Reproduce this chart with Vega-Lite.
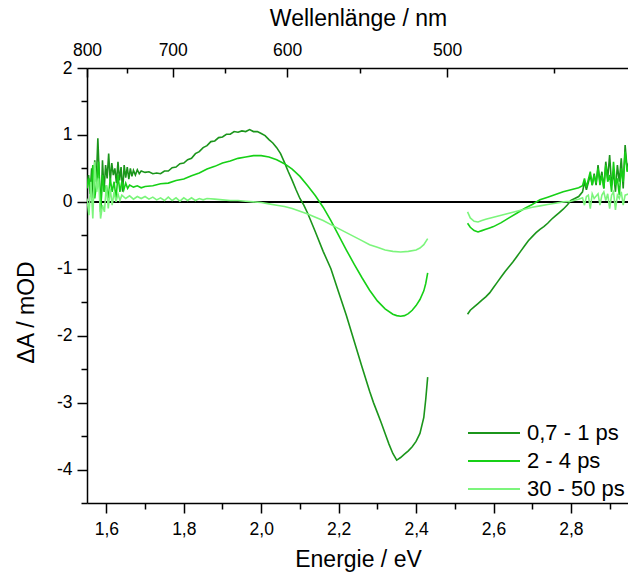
{
"$schema":"https://vega.github.io/schema/vega-lite/v6.json",
"autosize":"none",
"width":542,"height":435,
"padding":{"left":87,"top":68,"right":0,"bottom":71},
"background":"white",
"config":{"view":{"stroke":null},
"axis":{"labelFont":"Liberation Sans","titleFont":"Liberation Sans","labelFontSize":17.5,"titleFontSize":23,"titleFontWeight":"normal","labelColor":"black","titleColor":"black","domainColor":"black","tickColor":"black","domainWidth":1.5,"tickWidth":1.5,"grid":false,"labelFlush":false,"labelOverlap":false},
"legend":{"labelFont":"Liberation Sans","labelFontSize":22,"labelColor":"black"}},
"datasets":{"d":[
{"s":"0,7 - 1 ps","p":1,"e":1.550,"v":0.25},{"s":"0,7 - 1 ps","p":1,"e":1.554,"v":0.40},{"s":"0,7 - 1 ps","p":1,"e":1.558,"v":0.12},{"s":"0,7 - 1 ps","p":1,"e":1.562,"v":0.50},{"s":"0,7 - 1 ps","p":1,"e":1.566,"v":0.05},{"s":"0,7 - 1 ps","p":1,"e":1.570,"v":0.62},{"s":"0,7 - 1 ps","p":1,"e":1.574,"v":0.30},{"s":"0,7 - 1 ps","p":1,"e":1.578,"v":0.95},{"s":"0,7 - 1 ps","p":1,"e":1.582,"v":0.35},{"s":"0,7 - 1 ps","p":1,"e":1.586,"v":-0.12},{"s":"0,7 - 1 ps","p":1,"e":1.590,"v":0.62},{"s":"0,7 - 1 ps","p":1,"e":1.594,"v":0.15},{"s":"0,7 - 1 ps","p":1,"e":1.598,"v":0.55},{"s":"0,7 - 1 ps","p":1,"e":1.602,"v":0.35},{"s":"0,7 - 1 ps","p":1,"e":1.606,"v":0.72},{"s":"0,7 - 1 ps","p":1,"e":1.610,"v":0.30},{"s":"0,7 - 1 ps","p":1,"e":1.614,"v":0.58},{"s":"0,7 - 1 ps","p":1,"e":1.618,"v":0.40},{"s":"0,7 - 1 ps","p":1,"e":1.622,"v":0.50},{"s":"0,7 - 1 ps","p":1,"e":1.626,"v":0.28},{"s":"0,7 - 1 ps","p":1,"e":1.630,"v":0.60},{"s":"0,7 - 1 ps","p":1,"e":1.634,"v":0.32},{"s":"0,7 - 1 ps","p":1,"e":1.638,"v":0.52},{"s":"0,7 - 1 ps","p":1,"e":1.642,"v":0.15},{"s":"0,7 - 1 ps","p":1,"e":1.646,"v":0.55},{"s":"0,7 - 1 ps","p":1,"e":1.650,"v":0.36},{"s":"0,7 - 1 ps","p":1,"e":1.654,"v":0.52},{"s":"0,7 - 1 ps","p":1,"e":1.658,"v":0.34},{"s":"0,7 - 1 ps","p":1,"e":1.662,"v":0.50},{"s":"0,7 - 1 ps","p":1,"e":1.666,"v":0.38},{"s":"0,7 - 1 ps","p":1,"e":1.670,"v":0.47},{"s":"0,7 - 1 ps","p":1,"e":1.675,"v":0.40},{"s":"0,7 - 1 ps","p":1,"e":1.680,"v":0.48},{"s":"0,7 - 1 ps","p":1,"e":1.685,"v":0.42},{"s":"0,7 - 1 ps","p":1,"e":1.690,"v":0.46},{"s":"0,7 - 1 ps","p":1,"e":1.700,"v":0.44},{"s":"0,7 - 1 ps","p":1,"e":1.710,"v":0.45},{"s":"0,7 - 1 ps","p":1,"e":1.720,"v":0.42},{"s":"0,7 - 1 ps","p":1,"e":1.730,"v":0.43},{"s":"0,7 - 1 ps","p":1,"e":1.740,"v":0.42},{"s":"0,7 - 1 ps","p":1,"e":1.750,"v":0.46},{"s":"0,7 - 1 ps","p":1,"e":1.760,"v":0.46},{"s":"0,7 - 1 ps","p":1,"e":1.770,"v":0.51},{"s":"0,7 - 1 ps","p":1,"e":1.780,"v":0.52},{"s":"0,7 - 1 ps","p":1,"e":1.790,"v":0.57},{"s":"0,7 - 1 ps","p":1,"e":1.800,"v":0.58},{"s":"0,7 - 1 ps","p":1,"e":1.810,"v":0.63},{"s":"0,7 - 1 ps","p":1,"e":1.820,"v":0.65},{"s":"0,7 - 1 ps","p":1,"e":1.830,"v":0.72},{"s":"0,7 - 1 ps","p":1,"e":1.840,"v":0.75},{"s":"0,7 - 1 ps","p":1,"e":1.850,"v":0.81},{"s":"0,7 - 1 ps","p":1,"e":1.860,"v":0.84},{"s":"0,7 - 1 ps","p":1,"e":1.870,"v":0.90},{"s":"0,7 - 1 ps","p":1,"e":1.880,"v":0.91},{"s":"0,7 - 1 ps","p":1,"e":1.890,"v":0.96},{"s":"0,7 - 1 ps","p":1,"e":1.900,"v":0.97},{"s":"0,7 - 1 ps","p":1,"e":1.910,"v":1.01},{"s":"0,7 - 1 ps","p":1,"e":1.920,"v":1.01},{"s":"0,7 - 1 ps","p":1,"e":1.930,"v":1.05},{"s":"0,7 - 1 ps","p":1,"e":1.940,"v":1.04},{"s":"0,7 - 1 ps","p":1,"e":1.950,"v":1.06},{"s":"0,7 - 1 ps","p":1,"e":1.960,"v":1.05},{"s":"0,7 - 1 ps","p":1,"e":1.970,"v":1.08},{"s":"0,7 - 1 ps","p":1,"e":1.980,"v":1.05},{"s":"0,7 - 1 ps","p":1,"e":1.990,"v":1.05},{"s":"0,7 - 1 ps","p":1,"e":2.000,"v":1.02},{"s":"0,7 - 1 ps","p":1,"e":2.010,"v":0.99},{"s":"0,7 - 1 ps","p":1,"e":2.020,"v":0.93},{"s":"0,7 - 1 ps","p":1,"e":2.030,"v":0.88},{"s":"0,7 - 1 ps","p":1,"e":2.040,"v":0.81},{"s":"0,7 - 1 ps","p":1,"e":2.050,"v":0.72},{"s":"0,7 - 1 ps","p":1,"e":2.060,"v":0.59},{"s":"0,7 - 1 ps","p":1,"e":2.070,"v":0.45},{"s":"0,7 - 1 ps","p":1,"e":2.080,"v":0.32},{"s":"0,7 - 1 ps","p":1,"e":2.090,"v":0.18},{"s":"0,7 - 1 ps","p":1,"e":2.100,"v":0.05},{"s":"0,7 - 1 ps","p":1,"e":2.110,"v":-0.05},{"s":"0,7 - 1 ps","p":1,"e":2.120,"v":-0.17},{"s":"0,7 - 1 ps","p":1,"e":2.140,"v":-0.45},{"s":"0,7 - 1 ps","p":1,"e":2.160,"v":-0.74},{"s":"0,7 - 1 ps","p":1,"e":2.180,"v":-1.00},{"s":"0,7 - 1 ps","p":1,"e":2.200,"v":-1.35},{"s":"0,7 - 1 ps","p":1,"e":2.220,"v":-1.70},{"s":"0,7 - 1 ps","p":1,"e":2.240,"v":-2.08},{"s":"0,7 - 1 ps","p":1,"e":2.260,"v":-2.46},{"s":"0,7 - 1 ps","p":1,"e":2.280,"v":-2.83},{"s":"0,7 - 1 ps","p":1,"e":2.290,"v":-3.00},{"s":"0,7 - 1 ps","p":1,"e":2.300,"v":-3.15},{"s":"0,7 - 1 ps","p":1,"e":2.310,"v":-3.30},{"s":"0,7 - 1 ps","p":1,"e":2.320,"v":-3.46},{"s":"0,7 - 1 ps","p":1,"e":2.330,"v":-3.62},{"s":"0,7 - 1 ps","p":1,"e":2.340,"v":-3.76},{"s":"0,7 - 1 ps","p":1,"e":2.350,"v":-3.86},{"s":"0,7 - 1 ps","p":1,"e":2.355,"v":-3.84},{"s":"0,7 - 1 ps","p":1,"e":2.360,"v":-3.82},{"s":"0,7 - 1 ps","p":1,"e":2.370,"v":-3.77},{"s":"0,7 - 1 ps","p":1,"e":2.380,"v":-3.72},{"s":"0,7 - 1 ps","p":1,"e":2.390,"v":-3.66},{"s":"0,7 - 1 ps","p":1,"e":2.400,"v":-3.58},{"s":"0,7 - 1 ps","p":1,"e":2.410,"v":-3.46},{"s":"0,7 - 1 ps","p":1,"e":2.420,"v":-3.22},{"s":"0,7 - 1 ps","p":1,"e":2.425,"v":-2.95},{"s":"0,7 - 1 ps","p":1,"e":2.430,"v":-2.62},
{"s":"0,7 - 1 ps","p":2,"e":2.533,"v":-1.68},{"s":"0,7 - 1 ps","p":2,"e":2.540,"v":-1.62},{"s":"0,7 - 1 ps","p":2,"e":2.550,"v":-1.57},{"s":"0,7 - 1 ps","p":2,"e":2.560,"v":-1.52},{"s":"0,7 - 1 ps","p":2,"e":2.570,"v":-1.47},{"s":"0,7 - 1 ps","p":2,"e":2.580,"v":-1.42},{"s":"0,7 - 1 ps","p":2,"e":2.590,"v":-1.36},{"s":"0,7 - 1 ps","p":2,"e":2.600,"v":-1.28},{"s":"0,7 - 1 ps","p":2,"e":2.610,"v":-1.20},{"s":"0,7 - 1 ps","p":2,"e":2.620,"v":-1.12},{"s":"0,7 - 1 ps","p":2,"e":2.630,"v":-1.04},{"s":"0,7 - 1 ps","p":2,"e":2.640,"v":-0.97},{"s":"0,7 - 1 ps","p":2,"e":2.650,"v":-0.90},{"s":"0,7 - 1 ps","p":2,"e":2.660,"v":-0.82},{"s":"0,7 - 1 ps","p":2,"e":2.670,"v":-0.74},{"s":"0,7 - 1 ps","p":2,"e":2.680,"v":-0.66},{"s":"0,7 - 1 ps","p":2,"e":2.690,"v":-0.58},{"s":"0,7 - 1 ps","p":2,"e":2.700,"v":-0.52},{"s":"0,7 - 1 ps","p":2,"e":2.710,"v":-0.46},{"s":"0,7 - 1 ps","p":2,"e":2.720,"v":-0.41},{"s":"0,7 - 1 ps","p":2,"e":2.730,"v":-0.37},{"s":"0,7 - 1 ps","p":2,"e":2.740,"v":-0.32},{"s":"0,7 - 1 ps","p":2,"e":2.750,"v":-0.26},{"s":"0,7 - 1 ps","p":2,"e":2.760,"v":-0.21},{"s":"0,7 - 1 ps","p":2,"e":2.770,"v":-0.16},{"s":"0,7 - 1 ps","p":2,"e":2.780,"v":-0.11},{"s":"0,7 - 1 ps","p":2,"e":2.790,"v":-0.05},{"s":"0,7 - 1 ps","p":2,"e":2.800,"v":0.02},{"s":"0,7 - 1 ps","p":2,"e":2.810,"v":0.05},{"s":"0,7 - 1 ps","p":2,"e":2.820,"v":0.08},{"s":"0,7 - 1 ps","p":2,"e":2.830,"v":0.15},{"s":"0,7 - 1 ps","p":2,"e":2.835,"v":0.30},{"s":"0,7 - 1 ps","p":2,"e":2.840,"v":0.18},{"s":"0,7 - 1 ps","p":2,"e":2.850,"v":0.40},{"s":"0,7 - 1 ps","p":2,"e":2.855,"v":0.25},{"s":"0,7 - 1 ps","p":2,"e":2.860,"v":0.42},{"s":"0,7 - 1 ps","p":2,"e":2.865,"v":0.25},{"s":"0,7 - 1 ps","p":2,"e":2.870,"v":0.55},{"s":"0,7 - 1 ps","p":2,"e":2.875,"v":0.30},{"s":"0,7 - 1 ps","p":2,"e":2.880,"v":0.45},{"s":"0,7 - 1 ps","p":2,"e":2.885,"v":0.20},{"s":"0,7 - 1 ps","p":2,"e":2.890,"v":0.60},{"s":"0,7 - 1 ps","p":2,"e":2.895,"v":0.35},{"s":"0,7 - 1 ps","p":2,"e":2.900,"v":0.70},{"s":"0,7 - 1 ps","p":2,"e":2.905,"v":0.25},{"s":"0,7 - 1 ps","p":2,"e":2.910,"v":0.45},{"s":"0,7 - 1 ps","p":2,"e":2.915,"v":0.15},{"s":"0,7 - 1 ps","p":2,"e":2.920,"v":0.55},{"s":"0,7 - 1 ps","p":2,"e":2.925,"v":0.30},{"s":"0,7 - 1 ps","p":2,"e":2.930,"v":0.65},{"s":"0,7 - 1 ps","p":2,"e":2.935,"v":0.20},{"s":"0,7 - 1 ps","p":2,"e":2.940,"v":0.85},{"s":"0,7 - 1 ps","p":2,"e":2.945,"v":0.50},{"s":"0,7 - 1 ps","p":2,"e":2.950,"v":0.60},
{"s":"2 - 4 ps","p":1,"e":1.550,"v":0.20},{"s":"2 - 4 ps","p":1,"e":1.555,"v":0.35},{"s":"2 - 4 ps","p":1,"e":1.560,"v":0.10},{"s":"2 - 4 ps","p":1,"e":1.565,"v":0.55},{"s":"2 - 4 ps","p":1,"e":1.570,"v":0.05},{"s":"2 - 4 ps","p":1,"e":1.575,"v":0.30},{"s":"2 - 4 ps","p":1,"e":1.580,"v":0.60},{"s":"2 - 4 ps","p":1,"e":1.585,"v":-0.15},{"s":"2 - 4 ps","p":1,"e":1.590,"v":0.40},{"s":"2 - 4 ps","p":1,"e":1.595,"v":0.15},{"s":"2 - 4 ps","p":1,"e":1.600,"v":0.25},{"s":"2 - 4 ps","p":1,"e":1.605,"v":0.05},{"s":"2 - 4 ps","p":1,"e":1.610,"v":0.35},{"s":"2 - 4 ps","p":1,"e":1.615,"v":0.15},{"s":"2 - 4 ps","p":1,"e":1.620,"v":0.30},{"s":"2 - 4 ps","p":1,"e":1.625,"v":0.05},{"s":"2 - 4 ps","p":1,"e":1.630,"v":0.40},{"s":"2 - 4 ps","p":1,"e":1.635,"v":0.15},{"s":"2 - 4 ps","p":1,"e":1.640,"v":0.30},{"s":"2 - 4 ps","p":1,"e":1.645,"v":0.18},{"s":"2 - 4 ps","p":1,"e":1.650,"v":0.28},{"s":"2 - 4 ps","p":1,"e":1.655,"v":0.20},{"s":"2 - 4 ps","p":1,"e":1.660,"v":0.25},{"s":"2 - 4 ps","p":1,"e":1.670,"v":0.22},{"s":"2 - 4 ps","p":1,"e":1.680,"v":0.24},{"s":"2 - 4 ps","p":1,"e":1.690,"v":0.21},{"s":"2 - 4 ps","p":1,"e":1.700,"v":0.23},{"s":"2 - 4 ps","p":1,"e":1.720,"v":0.24},{"s":"2 - 4 ps","p":1,"e":1.740,"v":0.27},{"s":"2 - 4 ps","p":1,"e":1.760,"v":0.28},{"s":"2 - 4 ps","p":1,"e":1.780,"v":0.32},{"s":"2 - 4 ps","p":1,"e":1.800,"v":0.34},{"s":"2 - 4 ps","p":1,"e":1.820,"v":0.39},{"s":"2 - 4 ps","p":1,"e":1.840,"v":0.43},{"s":"2 - 4 ps","p":1,"e":1.860,"v":0.49},{"s":"2 - 4 ps","p":1,"e":1.880,"v":0.53},{"s":"2 - 4 ps","p":1,"e":1.900,"v":0.58},{"s":"2 - 4 ps","p":1,"e":1.920,"v":0.61},{"s":"2 - 4 ps","p":1,"e":1.940,"v":0.65},{"s":"2 - 4 ps","p":1,"e":1.960,"v":0.67},{"s":"2 - 4 ps","p":1,"e":1.980,"v":0.69},{"s":"2 - 4 ps","p":1,"e":2.000,"v":0.69},{"s":"2 - 4 ps","p":1,"e":2.020,"v":0.67},{"s":"2 - 4 ps","p":1,"e":2.040,"v":0.63},{"s":"2 - 4 ps","p":1,"e":2.060,"v":0.57},{"s":"2 - 4 ps","p":1,"e":2.080,"v":0.49},{"s":"2 - 4 ps","p":1,"e":2.100,"v":0.38},{"s":"2 - 4 ps","p":1,"e":2.120,"v":0.24},{"s":"2 - 4 ps","p":1,"e":2.140,"v":0.09},{"s":"2 - 4 ps","p":1,"e":2.160,"v":-0.08},{"s":"2 - 4 ps","p":1,"e":2.180,"v":-0.28},{"s":"2 - 4 ps","p":1,"e":2.200,"v":-0.50},{"s":"2 - 4 ps","p":1,"e":2.220,"v":-0.72},{"s":"2 - 4 ps","p":1,"e":2.240,"v":-0.93},{"s":"2 - 4 ps","p":1,"e":2.260,"v":-1.13},{"s":"2 - 4 ps","p":1,"e":2.280,"v":-1.32},{"s":"2 - 4 ps","p":1,"e":2.300,"v":-1.48},{"s":"2 - 4 ps","p":1,"e":2.320,"v":-1.60},{"s":"2 - 4 ps","p":1,"e":2.340,"v":-1.68},{"s":"2 - 4 ps","p":1,"e":2.350,"v":-1.70},{"s":"2 - 4 ps","p":1,"e":2.360,"v":-1.71},{"s":"2 - 4 ps","p":1,"e":2.370,"v":-1.70},{"s":"2 - 4 ps","p":1,"e":2.380,"v":-1.67},{"s":"2 - 4 ps","p":1,"e":2.390,"v":-1.62},{"s":"2 - 4 ps","p":1,"e":2.400,"v":-1.55},{"s":"2 - 4 ps","p":1,"e":2.410,"v":-1.46},{"s":"2 - 4 ps","p":1,"e":2.420,"v":-1.33},{"s":"2 - 4 ps","p":1,"e":2.425,"v":-1.22},{"s":"2 - 4 ps","p":1,"e":2.430,"v":-1.06},
{"s":"2 - 4 ps","p":2,"e":2.533,"v":-0.32},{"s":"2 - 4 ps","p":2,"e":2.540,"v":-0.38},{"s":"2 - 4 ps","p":2,"e":2.550,"v":-0.43},{"s":"2 - 4 ps","p":2,"e":2.560,"v":-0.45},{"s":"2 - 4 ps","p":2,"e":2.570,"v":-0.43},{"s":"2 - 4 ps","p":2,"e":2.580,"v":-0.41},{"s":"2 - 4 ps","p":2,"e":2.590,"v":-0.39},{"s":"2 - 4 ps","p":2,"e":2.600,"v":-0.37},{"s":"2 - 4 ps","p":2,"e":2.620,"v":-0.31},{"s":"2 - 4 ps","p":2,"e":2.640,"v":-0.24},{"s":"2 - 4 ps","p":2,"e":2.660,"v":-0.17},{"s":"2 - 4 ps","p":2,"e":2.680,"v":-0.10},{"s":"2 - 4 ps","p":2,"e":2.700,"v":-0.04},{"s":"2 - 4 ps","p":2,"e":2.720,"v":0.03},{"s":"2 - 4 ps","p":2,"e":2.740,"v":0.07},{"s":"2 - 4 ps","p":2,"e":2.760,"v":0.11},{"s":"2 - 4 ps","p":2,"e":2.780,"v":0.15},{"s":"2 - 4 ps","p":2,"e":2.800,"v":0.18},{"s":"2 - 4 ps","p":2,"e":2.820,"v":0.21},{"s":"2 - 4 ps","p":2,"e":2.830,"v":0.24},{"s":"2 - 4 ps","p":2,"e":2.835,"v":0.35},{"s":"2 - 4 ps","p":2,"e":2.840,"v":0.22},{"s":"2 - 4 ps","p":2,"e":2.850,"v":0.45},{"s":"2 - 4 ps","p":2,"e":2.855,"v":0.25},{"s":"2 - 4 ps","p":2,"e":2.860,"v":0.40},{"s":"2 - 4 ps","p":2,"e":2.865,"v":0.28},{"s":"2 - 4 ps","p":2,"e":2.870,"v":0.50},{"s":"2 - 4 ps","p":2,"e":2.875,"v":0.25},{"s":"2 - 4 ps","p":2,"e":2.880,"v":0.40},{"s":"2 - 4 ps","p":2,"e":2.885,"v":0.20},{"s":"2 - 4 ps","p":2,"e":2.890,"v":0.55},{"s":"2 - 4 ps","p":2,"e":2.895,"v":0.30},{"s":"2 - 4 ps","p":2,"e":2.900,"v":0.40},{"s":"2 - 4 ps","p":2,"e":2.905,"v":0.15},{"s":"2 - 4 ps","p":2,"e":2.910,"v":0.60},{"s":"2 - 4 ps","p":2,"e":2.915,"v":0.25},{"s":"2 - 4 ps","p":2,"e":2.920,"v":0.35},{"s":"2 - 4 ps","p":2,"e":2.925,"v":0.10},{"s":"2 - 4 ps","p":2,"e":2.930,"v":0.50},{"s":"2 - 4 ps","p":2,"e":2.935,"v":0.30},{"s":"2 - 4 ps","p":2,"e":2.940,"v":0.75},{"s":"2 - 4 ps","p":2,"e":2.945,"v":0.45},{"s":"2 - 4 ps","p":2,"e":2.950,"v":0.55},
{"s":"30 - 50 ps","p":1,"e":1.550,"v":0.05},{"s":"30 - 50 ps","p":1,"e":1.555,"v":-0.20},{"s":"30 - 50 ps","p":1,"e":1.560,"v":0.30},{"s":"30 - 50 ps","p":1,"e":1.565,"v":-0.25},{"s":"30 - 50 ps","p":1,"e":1.570,"v":0.60},{"s":"30 - 50 ps","p":1,"e":1.575,"v":0.15},{"s":"30 - 50 ps","p":1,"e":1.580,"v":0.35},{"s":"30 - 50 ps","p":1,"e":1.585,"v":-0.25},{"s":"30 - 50 ps","p":1,"e":1.590,"v":-0.05},{"s":"30 - 50 ps","p":1,"e":1.595,"v":-0.15},{"s":"30 - 50 ps","p":1,"e":1.600,"v":0.25},{"s":"30 - 50 ps","p":1,"e":1.605,"v":-0.10},{"s":"30 - 50 ps","p":1,"e":1.610,"v":0.20},{"s":"30 - 50 ps","p":1,"e":1.615,"v":-0.05},{"s":"30 - 50 ps","p":1,"e":1.620,"v":0.15},{"s":"30 - 50 ps","p":1,"e":1.625,"v":0.00},{"s":"30 - 50 ps","p":1,"e":1.630,"v":0.12},{"s":"30 - 50 ps","p":1,"e":1.635,"v":0.02},{"s":"30 - 50 ps","p":1,"e":1.640,"v":0.10},{"s":"30 - 50 ps","p":1,"e":1.650,"v":0.05},{"s":"30 - 50 ps","p":1,"e":1.660,"v":0.09},{"s":"30 - 50 ps","p":1,"e":1.670,"v":0.04},{"s":"30 - 50 ps","p":1,"e":1.680,"v":0.08},{"s":"30 - 50 ps","p":1,"e":1.690,"v":0.05},{"s":"30 - 50 ps","p":1,"e":1.700,"v":0.08},{"s":"30 - 50 ps","p":1,"e":1.710,"v":0.04},{"s":"30 - 50 ps","p":1,"e":1.720,"v":0.07},{"s":"30 - 50 ps","p":1,"e":1.730,"v":0.03},{"s":"30 - 50 ps","p":1,"e":1.740,"v":0.06},{"s":"30 - 50 ps","p":1,"e":1.750,"v":0.02},{"s":"30 - 50 ps","p":1,"e":1.760,"v":0.07},{"s":"30 - 50 ps","p":1,"e":1.770,"v":0.02},{"s":"30 - 50 ps","p":1,"e":1.780,"v":0.06},{"s":"30 - 50 ps","p":1,"e":1.790,"v":0.01},{"s":"30 - 50 ps","p":1,"e":1.800,"v":0.06},{"s":"30 - 50 ps","p":1,"e":1.810,"v":0.02},{"s":"30 - 50 ps","p":1,"e":1.820,"v":0.06},{"s":"30 - 50 ps","p":1,"e":1.830,"v":0.02},{"s":"30 - 50 ps","p":1,"e":1.840,"v":0.05},{"s":"30 - 50 ps","p":1,"e":1.850,"v":0.03},{"s":"30 - 50 ps","p":1,"e":1.860,"v":0.05},{"s":"30 - 50 ps","p":1,"e":1.880,"v":0.04},{"s":"30 - 50 ps","p":1,"e":1.900,"v":0.03},{"s":"30 - 50 ps","p":1,"e":1.920,"v":0.02},{"s":"30 - 50 ps","p":1,"e":1.940,"v":0.02},{"s":"30 - 50 ps","p":1,"e":1.960,"v":0.01},{"s":"30 - 50 ps","p":1,"e":1.980,"v":0.00},{"s":"30 - 50 ps","p":1,"e":2.000,"v":-0.01},{"s":"30 - 50 ps","p":1,"e":2.020,"v":-0.03},{"s":"30 - 50 ps","p":1,"e":2.040,"v":-0.05},{"s":"30 - 50 ps","p":1,"e":2.060,"v":-0.07},{"s":"30 - 50 ps","p":1,"e":2.080,"v":-0.10},{"s":"30 - 50 ps","p":1,"e":2.100,"v":-0.14},{"s":"30 - 50 ps","p":1,"e":2.120,"v":-0.18},{"s":"30 - 50 ps","p":1,"e":2.140,"v":-0.23},{"s":"30 - 50 ps","p":1,"e":2.160,"v":-0.28},{"s":"30 - 50 ps","p":1,"e":2.180,"v":-0.34},{"s":"30 - 50 ps","p":1,"e":2.200,"v":-0.40},{"s":"30 - 50 ps","p":1,"e":2.220,"v":-0.46},{"s":"30 - 50 ps","p":1,"e":2.240,"v":-0.52},{"s":"30 - 50 ps","p":1,"e":2.260,"v":-0.58},{"s":"30 - 50 ps","p":1,"e":2.280,"v":-0.64},{"s":"30 - 50 ps","p":1,"e":2.300,"v":-0.68},{"s":"30 - 50 ps","p":1,"e":2.320,"v":-0.72},{"s":"30 - 50 ps","p":1,"e":2.340,"v":-0.74},{"s":"30 - 50 ps","p":1,"e":2.360,"v":-0.75},{"s":"30 - 50 ps","p":1,"e":2.380,"v":-0.74},{"s":"30 - 50 ps","p":1,"e":2.400,"v":-0.72},{"s":"30 - 50 ps","p":1,"e":2.410,"v":-0.69},{"s":"30 - 50 ps","p":1,"e":2.420,"v":-0.64},{"s":"30 - 50 ps","p":1,"e":2.430,"v":-0.55},
{"s":"30 - 50 ps","p":2,"e":2.533,"v":-0.15},{"s":"30 - 50 ps","p":2,"e":2.540,"v":-0.24},{"s":"30 - 50 ps","p":2,"e":2.550,"v":-0.29},{"s":"30 - 50 ps","p":2,"e":2.560,"v":-0.30},{"s":"30 - 50 ps","p":2,"e":2.570,"v":-0.28},{"s":"30 - 50 ps","p":2,"e":2.580,"v":-0.26},{"s":"30 - 50 ps","p":2,"e":2.600,"v":-0.23},{"s":"30 - 50 ps","p":2,"e":2.620,"v":-0.20},{"s":"30 - 50 ps","p":2,"e":2.640,"v":-0.17},{"s":"30 - 50 ps","p":2,"e":2.660,"v":-0.14},{"s":"30 - 50 ps","p":2,"e":2.680,"v":-0.11},{"s":"30 - 50 ps","p":2,"e":2.700,"v":-0.08},{"s":"30 - 50 ps","p":2,"e":2.720,"v":-0.06},{"s":"30 - 50 ps","p":2,"e":2.740,"v":-0.04},{"s":"30 - 50 ps","p":2,"e":2.760,"v":-0.02},{"s":"30 - 50 ps","p":2,"e":2.780,"v":0.00},{"s":"30 - 50 ps","p":2,"e":2.800,"v":0.01},{"s":"30 - 50 ps","p":2,"e":2.820,"v":0.04},{"s":"30 - 50 ps","p":2,"e":2.830,"v":0.06},{"s":"30 - 50 ps","p":2,"e":2.835,"v":-0.05},{"s":"30 - 50 ps","p":2,"e":2.840,"v":0.08},{"s":"30 - 50 ps","p":2,"e":2.845,"v":0.10},{"s":"30 - 50 ps","p":2,"e":2.850,"v":-0.10},{"s":"30 - 50 ps","p":2,"e":2.855,"v":0.12},{"s":"30 - 50 ps","p":2,"e":2.860,"v":0.05},{"s":"30 - 50 ps","p":2,"e":2.870,"v":0.12},{"s":"30 - 50 ps","p":2,"e":2.875,"v":-0.05},{"s":"30 - 50 ps","p":2,"e":2.880,"v":0.10},{"s":"30 - 50 ps","p":2,"e":2.885,"v":0.15},{"s":"30 - 50 ps","p":2,"e":2.890,"v":0.02},{"s":"30 - 50 ps","p":2,"e":2.895,"v":0.12},{"s":"30 - 50 ps","p":2,"e":2.900,"v":-0.10},{"s":"30 - 50 ps","p":2,"e":2.905,"v":0.10},{"s":"30 - 50 ps","p":2,"e":2.910,"v":0.15},{"s":"30 - 50 ps","p":2,"e":2.915,"v":-0.12},{"s":"30 - 50 ps","p":2,"e":2.920,"v":0.10},{"s":"30 - 50 ps","p":2,"e":2.925,"v":0.05},{"s":"30 - 50 ps","p":2,"e":2.930,"v":0.15},{"s":"30 - 50 ps","p":2,"e":2.935,"v":-0.05},{"s":"30 - 50 ps","p":2,"e":2.940,"v":0.10},{"s":"30 - 50 ps","p":2,"e":2.950,"v":0.12}
]},
"data":{"name":"d"},
"layer":[
{"mark":{"type":"rule","color":"black","strokeWidth":1.5},
 "encoding":{"y":{"datum":0,"type":"quantitative","scale":{"domain":[-4.5,2]},"axis":null}}},
{"mark":{"type":"line","strokeWidth":1.6,"clip":true},
 "encoding":{
  "x":{"field":"e","type":"quantitative","scale":{"domain":[1.55,2.95],"nice":false,"zero":false},
   "axis":{"orient":"bottom","title":"Energie / eV","values":[1.6,1.8,2.0,2.2,2.4,2.6,2.8],"labelExpr":"replace(format(datum.value,'.1f'),'.',',')","tickSize":10,"labelPadding":21,"labelBaseline":"alphabetic","titleY":63,"titleBaseline":"alphabetic"}},
  "y":{"field":"v","type":"quantitative","scale":{"domain":[-4.5,2],"nice":false,"zero":false},
   "axis":{"orient":"left","title":"ΔA / mOD","values":[-4,-3,-2,-1,0,1,2],"labelExpr":"datum.value + ''","tickSize":10,"labelPadding":5,"titleX":-54,"titleY":244,"titleAngle":-90,"titleAlign":"center","titleBaseline":"alphabetic"}},
  "color":{"field":"s","type":"nominal","scale":{"domain":["0,7 - 1 ps","2 - 4 ps","30 - 50 ps"],"range":["#1b951b","#16d016","#7cf57c"]},
   "legend":{"title":null,"orient":"none","legendX":380,"legendY":351,"symbolType":"stroke","symbolSize":2704,"symbolStrokeWidth":2,"clipHeight":28,"rowPadding":0,"padding":0,"labelOffset":6}},
  "detail":{"field":"p"},
  "order":{"field":"e","type":"quantitative"}}},
{"mark":{"type":"point","opacity":0},
 "encoding":{
  "x":{"field":"e","type":"quantitative","axis":{"orient":"top","title":"Wellenlänge / nm","values":[1.55,1.771429,2.066667,2.48],"labelExpr":"format(1240/datum.value,'.0f')","tickSize":-9,"labelPadding":22,"labelBaseline":"alphabetic","titleY":-43,"titleBaseline":"alphabetic"}},
  "y":{"field":"v","type":"quantitative","axis":null}}},
{"mark":{"type":"point","opacity":0},
 "encoding":{
  "x":{"field":"e","type":"quantitative","axis":{"orient":"bottom","title":null,"values":[1.7,1.9,2.1,2.3,2.5,2.7,2.9],"labels":false,"domain":false,"tickSize":6}},
  "y":{"field":"v","type":"quantitative","axis":{"orient":"left","title":null,"values":[-4.5,-3.5,-2.5,-1.5,-0.5,0.5,1.5],"labels":false,"domain":false,"tickSize":6}}}},
{"mark":{"type":"point","opacity":0},
 "encoding":{
  "x":{"field":"e","type":"quantitative","axis":{"orient":"top","title":null,"values":[1.653333,1.907692,2.254545,2.755556],"labels":false,"domain":false,"tickSize":-5}}}}
],
"resolve":{"axis":{"x":"independent","y":"independent"}}
}
